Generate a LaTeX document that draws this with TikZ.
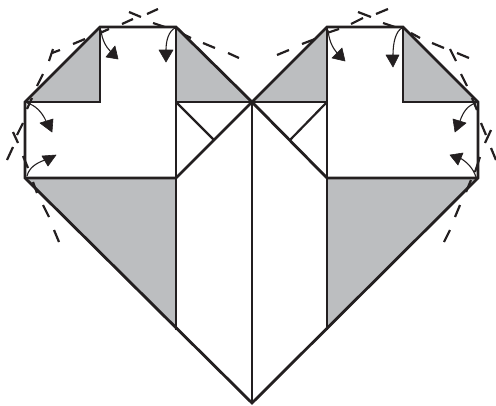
\documentclass[tikz,border=0pt]{standalone}
\definecolor{ink}{HTML}{231F20}
\definecolor{fold}{HTML}{BCBEC0}
\tikzset{
  thick line/.style={draw=ink,line width=2.8pt,line join=miter},
  medium line/.style={draw=ink,line width=2.2pt},
  thin line/.style={draw=ink,line width=1.3pt},
  shade/.style={fill=fold},
  dashmark/.style={draw=ink,line width=2.2pt},
  stem/.style={draw=ink,line width=1.1pt},
  head/.style={fill=ink,draw=ink,line width=0.6pt,line join=round},
}
\begin{document}
\begin{tikzpicture}[x=1pt,y=-1pt]
\useasboundingbox (0,0) rectangle (496,405);
% grey panels
\fill[shade] (25,102)--(100,27)--(100,102)--cycle;
\fill[shade] (176,27)--(252,102)--(176,102)--cycle;
\fill[shade] (252,102)--(327,27)--(327,102)--cycle;
\fill[shade] (403,27)--(478,102)--(403,102)--cycle;
\fill[shade] (25,178)--(176,178)--(176,330)--cycle;
\fill[shade] (327,178)--(478,178)--(327,330)--cycle;
% thin folds
\draw[thin line] (176,102)--(176,178);
\draw[thin line] (327,102)--(327,178);
\draw[thin line] (252,102)--(252,403);
% heavy lines
\draw[thick line] (252,403)--(25,178)--(25,102)--(100,27)--(176,27)--(252,102)--(327,27)--(403,27)--(478,102)--(478,178)--cycle;
\draw[thick line] (25,102)--(100,102)--(100,27);
\draw[thick line] (176,27)--(176,102)--(327,102)--(327,27);
\draw[thick line] (403,27)--(403,102)--(478,102);
\draw[thick line] (25,178)--(176,178)--(252,102)--(327,178)--(478,178);
\draw[medium line] (176,102)--(214,140);
\draw[medium line] (327,102)--(290,140);
\draw[medium line] (176,178)--(176,330);
\draw[medium line] (327,178)--(327,330);
% dashes
\foreach \a/\b in {
 {147,14}/{158,9},{129,12}/{141,17},{122,24}/{133,19},{153,23}/{165,27},
 {100,33}/{109,29},{73,44}/{85,39},{52,53}/{60,50},{53,49}/{49,61},
 {43,74}/{37,86},{32,98}/{27,109},{183,34}/{191,38},{203,43}/{215,48},{228,53}/{239,58},
 {23,123}/{17,135},{13,132}/{18,143},{13,147}/{7,160},{23,156}/{28,168},
 {33,182}/{37,193},{43,205}/{49,217},{54,230}/{59,242},
 {289,50}/{277,55},{302,44}/{315,39},{327,33}/{339,29},{351,24}/{363,18},
 {358,12}/{371,17},{376,14}/{388,9},{383,23}/{395,27},{411,33}/{420,38},
 {432,43}/{444,48},{450,49}/{456,61},{457,53}/{469,58},{461,74}/{467,86},{472,98}/{477,110},
 {481,123}/{486,135},{491,130}/{485,143},{491,148}/{496,160},{480,157}/{475,172},
 {471,180}/{466,192},{460,205}/{455,217},{450,230}/{444,242}}
 {\draw[dashmark] (\a)--(\b);}
% arrows
\draw[stem] (101,30) .. controls (102,40) and (106,47) .. (111,52);
\filldraw[head] (118,59)--(106,57)--(115,46)--cycle;
\draw[stem] (175,28) .. controls (169,31) and (166,40) .. (166,50);
\filldraw[head] (166,62)--(159,50)--(173,50)--cycle;
\draw[stem] (27,103) .. controls (35,105) and (42,112) .. (46,121);
\filldraw[head] (52,132)--(40,123)--(53,119)--cycle;
\draw[stem] (27,176) .. controls (29,168) and (36,163) .. (45,160);
\filldraw[head] (56,155)--(42,156)--(48,166)--cycle;
\draw[stem] (328,30) .. controls (329,40) and (332,47) .. (337,53);
\filldraw[head] (345,61)--(332,58)--(342,48)--cycle;
\draw[stem] (402,28) .. controls (396,31) and (393,42) .. (393,55);
\filldraw[head] (393,67)--(386,55)--(399,55)--cycle;
\draw[stem] (476,103) .. controls (468,105) and (463,112) .. (460,121);
\filldraw[head] (455,132)--(453,119)--(466,123)--cycle;
\draw[stem] (476,177) .. controls (473,168) and (467,162) .. (460,158);
\filldraw[head] (450,155)--(463,153)--(458,165)--cycle;
\end{tikzpicture}
\end{document}
